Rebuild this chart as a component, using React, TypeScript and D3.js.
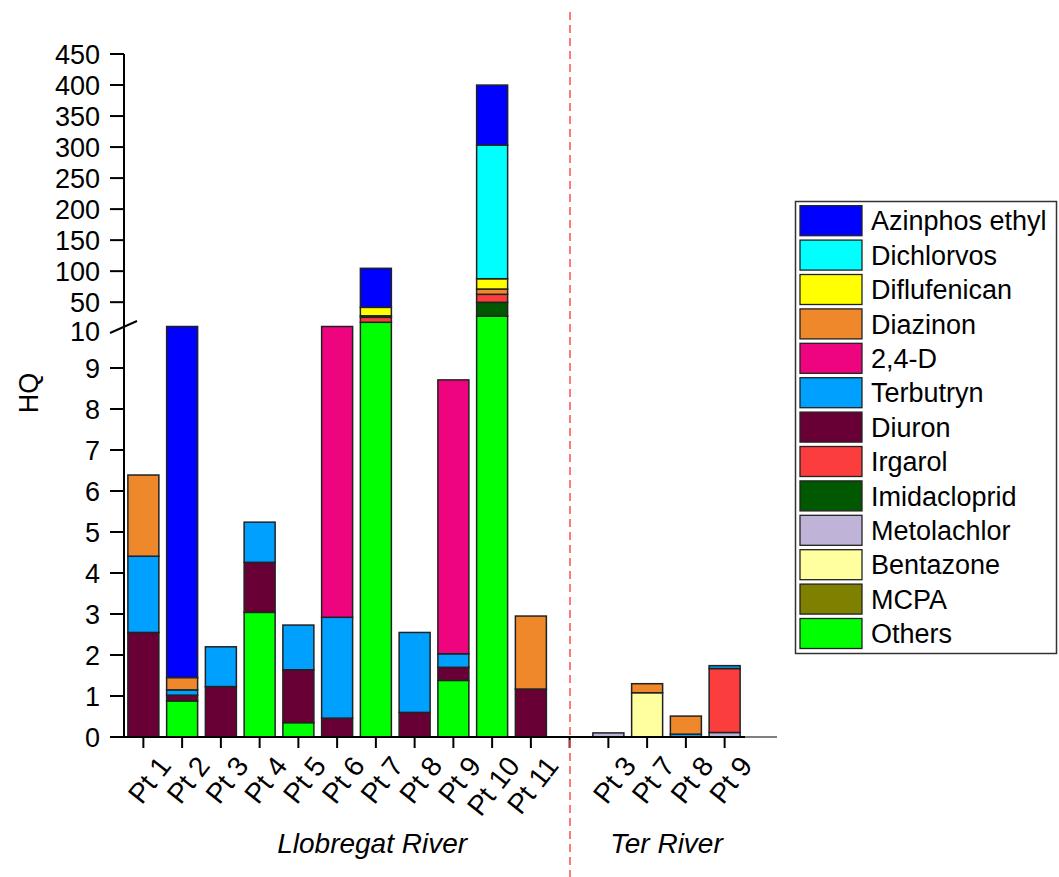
import React from "react";
import * as d3 from "d3";

const categories = ["Pt 1", "Pt 2", "Pt 3", "Pt 4", "Pt 5", "Pt 6", "Pt 7", "Pt 8", "Pt 9", "Pt 10", "Pt 11", "", "Pt 3", "Pt 7", "Pt 8", "Pt 9"];
const groups = [
  { name: "Llobregat River", from: 0, to: 10 },
  { name: "Ter River", from: 12, to: 15 },
];

// Legend order (top -> bottom); stacking is the reverse (Others at the bottom)
const seriesNames = ["Azinphos ethyl", "Dichlorvos", "Diflufenican", "Diazinon", "2,4-D", "Terbutryn", "Diuron", "Irgarol", "Imidacloprid", "Metolachlor", "Bentazone", "MCPA", "Others"];
const seriesColors = ["#0000ff", "#00ffff", "#ffff00", "#ef882b", "#ef047f", "#00a0ff", "#680035", "#fc3d3d", "#005800", "#c0b3d8", "#ffffa0", "#808000", "#00ff00"];

const azinphosEthyl = [0, 9.35, 0, 0, 0, 0, 62.9, 0, 0, 96.6, 0, 0, 0, 0, 0, 0];
const dichlorvos = [0, 0, 0, 0, 0, 0, 0, 0, 0, 215.5, 0, 0, 0, 0, 0, 0];
const diflufenican = [0, 0, 0, 0, 0, 0, 13.6, 0, 0, 16.6, 0, 0, 0, 0, 0, 0];
const diazinon = [1.98, 0.3, 0, 0, 0, 0, 0, 0, 0, 8.5, 1.78, 0, 0, 0.22, 0.44, 0];
const d24 = [0, 0, 0, 0, 0, 7.88, 2.5, 0, 6.68, 0, 0, 0, 0, 0, 0, 0];
const terbutryn = [1.86, 0.13, 0.97, 0.98, 1.09, 2.46, 0, 1.95, 0.33, 0, 0, 0, 0, 0, 0.07, 0.07];
const diuron = [2.55, 0.14, 1.23, 1.22, 1.29, 0.46, 0, 0.6, 0.32, 0, 1.17, 0, 0, 0, 0, 0];
const irgarol = [0, 0, 0, 0, 0, 0, 8, 0, 0, 12.9, 0, 0, 0, 0, 0, 1.56];
const imidacloprid = [0, 0, 0, 0, 0, 0, 0, 0, 0, 22.1, 0, 0, 0, 0, 0, 0];
const metolachlor = [0, 0, 0, 0, 0, 0, 0, 0, 0, 0, 0, 0, 0.1, 0, 0, 0.11];
const bentazone = [0, 0, 0, 0, 0, 0, 0, 0, 0, 0, 0, 0, 0, 1.08, 0, 0];
const mcpa = [0, 0, 0, 0, 0, 0, 0, 0, 0, 0, 0, 0, 0, 0, 0, 0];
const others = [0, 0.88, 0, 3.04, 0.35, 0, 17.6, 0, 1.38, 27.7, 0, 0, 0, 0, 0, 0];

const seriesValues = [azinphosEthyl, dichlorvos, diflufenican, diazinon, d24, terbutryn, diuron, irgarol, imidacloprid, metolachlor, bentazone, mcpa, others];

const lowerTicks = [0, 1, 2, 3, 4, 5, 6, 7, 8, 9];
const upperTicks = [50, 100, 150, 200, 250, 300, 350, 400, 450];
const breakValue = 10;

const FONT = "'Liberation Sans', Arial, sans-serif";

export default function App() {
  const W = 1059, H = 877;
  const y = d3.scaleLinear().domain([0, breakValue, 450]).range([737, 327, 54]);
  const idx = categories.map((_, i) => String(i));
  const x = d3.scaleBand().domain(idx).range([124, 744]).paddingInner(0.2).paddingOuter(0.1);

  const table = categories.map((c, i) => {
    const row: any = { key: String(i) };
    seriesNames.forEach((s, k) => (row[s] = seriesValues[k][i]));
    return row;
  });
  const stackKeys = [...seriesNames].reverse();
  const stacked = d3.stack().keys(stackKeys)(table);
  const colorOf = (s: string) => seriesColors[seriesNames.indexOf(s)];

  const axisX = 124;
  const axisY = y(0);
  const fs = 27;

  return (
    <svg width={W} height={H} style={{ position: "absolute", left: 0, top: 0, background: "#fff" }} fontFamily={FONT}>
      {/* bars */}
      {stacked.map((layer) => (
        <g key={layer.key} fill={colorOf(layer.key)}>
          {layer.map((d, i) => {
            if (d[1] - d[0] <= 0) return null;
            const y0 = y(d[0]);
            const y1 = y(d[1]);
            return (
              <rect key={i} x={x(String(i))} width={x.bandwidth()} y={y1} height={y0 - y1} stroke="#222" strokeWidth={1.5} />
            );
          })}
        </g>
      ))}

      {/* y axis */}
      <line x1={axisX} x2={axisX} y1={y(450)} y2={axisY} stroke="#000" strokeWidth={2} />
      {lowerTicks.concat(upperTicks).map((t) => (
        <g key={t}>
          <line x1={axisX - 14} x2={axisX} y1={y(t)} y2={y(t)} stroke="#000" strokeWidth={2} />
          <text x={100} y={y(t)} dy="0.36em" textAnchor="end" fontSize={fs}>{t}</text>
        </g>
      ))}
      <text x={100} y={y(breakValue) + 4} dy="0.36em" textAnchor="end" fontSize={fs}>{breakValue}</text>
      <line x1={110} y1={y(breakValue) + 6} x2={137} y2={y(breakValue) - 6} stroke="#000" strokeWidth={2} />
      <text transform={`translate(28,393) rotate(-90)`} dy="0.36em" textAnchor="middle" fontSize={fs}>HQ</text>

      {/* x axis */}
      <line x1={110} x2={745} y1={axisY} y2={axisY} stroke="#000" strokeWidth={2} />
      <line x1={745} x2={777} y1={axisY} y2={axisY} stroke="#000" strokeWidth={1} />
      {idx.map((k, i) => {
        const cx = (x(k) as number) + x.bandwidth() / 2;
        return (
          <g key={k}>
            <line x1={cx} x2={cx} y1={axisY} y2={axisY + 11} stroke="#000" strokeWidth={2} />
            {categories[i] && (
              <text transform={`translate(${cx + 21},760) rotate(-52)`} dy="0.36em" textAnchor="end" fontSize={28}>{categories[i]}</text>
            )}
          </g>
        );
      })}
      {groups.map((g) => {
        const a = (x(String(g.from)) as number);
        const b = (x(String(g.to)) as number) + x.bandwidth();
        return (
          <text key={g.name} x={(a + b) / 2 + (g.from === 0 ? 35 : 0)} y={853} textAnchor="middle" fontSize={28} fontStyle="italic">{g.name}</text>
        );
      })}

      {/* separator */}
      <line x1={570} x2={570} y1={12} y2={H} stroke="#ff5050" strokeWidth={1.5} strokeDasharray="8,5" />

      {/* legend */}
      <rect x={795.5} y={201.5} width={261} height={452} fill="#fff" stroke="#333" strokeWidth={1.5} />
      {seriesNames.map((s, k) => {
        const top = 205.7 + k * 34.4;
        return (
          <g key={s}>
            <rect x={800} y={top} width={62} height={30} fill={seriesColors[k]} stroke="#222" strokeWidth={1.3} />
            <text x={871} y={top + 15} dy="0.36em" fontSize={fs}>{s}</text>
          </g>
        );
      })}
    </svg>
  );
}
